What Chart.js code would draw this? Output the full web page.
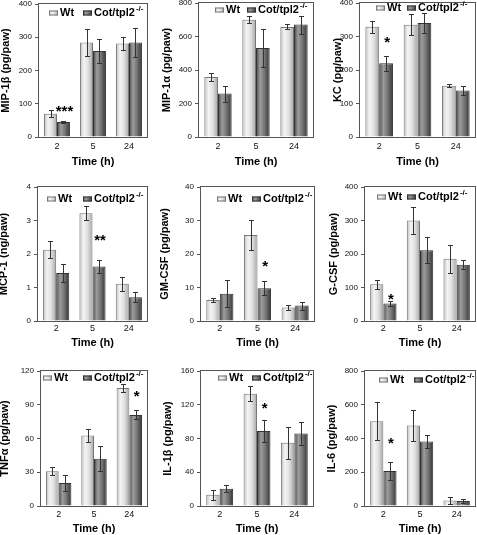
<!DOCTYPE html>
<html>
<head>
<meta charset="utf-8">
<script src="https://cdn.jsdelivr.net/npm/chart.js@4.4.1/dist/chart.umd.min.js"></script>
<style>
    html, body { margin: 0; padding: 0; background: #fff; }
    #page { position: relative; width: 477px; height: 535px; overflow: hidden; }
    #page canvas { position: absolute; }
</style>
</head>
<body>
<div id="page"></div>
<script>
const hours = ['2', '5', '24'];
const seriesNames = ['Wt', 'Cot/tpl2'];

const mip1bWt = [70, 284, 281];
const mip1bWtErr = [10, 40, 20];
const mip1bKo = [45, 259, 284];
const mip1bKoErr = [2, 37, 43];

const mip1aWt = [358, 700, 657];
const mip1aWtErr = [25, 21, 15];
const mip1aKo = [259, 531, 671];
const mip1aKoErr = [48, 111, 54];

const kcWt = [329, 335, 153];
const kcWtErr = [18, 31, 5];
const kcKo = [220, 340, 139];
const kcKoErr = [22, 30, 13];

const mcp1Wt = [2.13, 3.22, 1.11];
const mcp1WtErr = [0.26, 0.2, 0.2];
const mcp1Ko = [1.43, 1.63, 0.71];
const mcp1KoErr = [0.27, 0.2, 0.15];

const gmcsfWt = [6.3, 25.7, 4.0];
const gmcsfWtErr = [0.5, 4.4, 0.8];
const gmcsfKo = [8.1, 9.8, 4.6];
const gmcsfKoErr = [4, 2, 1.2];

const gcsfWt = [110, 300, 186];
const gcsfWtErr = [13, 40, 42];
const gcsfKo = [52, 211, 168];
const gcsfKoErr = [8, 39, 13];

const tnfWt = [31, 62.7, 105];
const tnfWtErr = [3.4, 6, 3.7];
const tnfKo = [20.4, 42, 81];
const tnfKoErr = [7.4, 11.2, 4.1];

const il1bWt = [13.4, 133, 75];
const il1bWtErr = [5.9, 9, 19];
const il1bKo = [20.5, 89, 86];
const il1bKoErr = [3.9, 13, 13.2];

const il6Wt = [502, 477, 33];
const il6WtErr = [112, 89, 20];
const il6Ko = [207, 382, 30];
const il6KoErr = [51, 40, 13];

const yTitles = ['MIP-1β (pg/paw)', 'MIP-1α (pg/paw)', 'KC (pg/paw)',
    'MCP-1 (ng/paw)', 'GM-CSF (pg/paw)', 'G-CSF (pg/paw)',
    'TNFα (pg/paw)', 'IL-1β (pg/paw)', 'IL-6 (pg/paw)'];
const yMax = [400, 800, 400, 4, 40, 400, 120, 160, 800];
const yStep = [100, 200, 100, 1, 10, 100, 30, 40, 200];

// significance marks (above the Cot/tpl2 bar)
const starText = ['***', '', '*', '**', '*', '*', '*', '*', '*'];
const starHour = [0, 0, 0, 1, 1, 0, 2, 1, 0];
const starLevel = [90, 0, 294, 2.52, 17.5, 76, 101, 120, 394];

// layout of the 3x3 grid (plot area left, top, right, bottom)
const plotBoxes = [
    [39, 4, 147, 137], [199, 3, 313, 137], [360, 3, 475, 137],
    [38, 187, 147, 321], [201, 187, 314, 321], [365, 187, 475, 321],
    [41, 371, 147, 506], [201, 371, 313, 506], [365, 371, 475, 506]
];
const titleX = [6, 167, 338, 4, 165, 334, 5, 168, 332];
// legend: offset from plot left, offset from plot top, gap to plot right
const legendPos = [[10, 9, 4], [16, 7, 6], [16, 5, 8], [9, 12, 4], [16, 12, 2],
    [12, 10, 8], [2, 7, 4], [17, 7, 1], [14, 9, 1]];
const rowAxis = [[4.6, 31.6], [2.6, 28.6], [3, 29.6]];

const FONT = '"Liberation Sans", Arial, sans-serif';
const CAT_PCT = 0.72;

const panels = [
    [mip1bWt, mip1bWtErr, mip1bKo, mip1bKoErr],
    [mip1aWt, mip1aWtErr, mip1aKo, mip1aKoErr],
    [kcWt, kcWtErr, kcKo, kcKoErr],
    [mcp1Wt, mcp1WtErr, mcp1Ko, mcp1KoErr],
    [gmcsfWt, gmcsfWtErr, gmcsfKo, gmcsfKoErr],
    [gcsfWt, gcsfWtErr, gcsfKo, gcsfKoErr],
    [tnfWt, tnfWtErr, tnfKo, tnfKoErr],
    [il1bWt, il1bWtErr, il1bKo, il1bKoErr],
    [il6Wt, il6WtErr, il6Ko, il6KoErr]
];

function shade(c, x0, x1, kind) {
    const g = c.createLinearGradient(x0, 0, x1, 0);
    if (kind === 0) {
        g.addColorStop(0, '#bdbdbd');
        g.addColorStop(0.3, '#f4f4f4');
        g.addColorStop(0.6, '#e2e2e2');
        g.addColorStop(1, '#a6a6a6');
    } else {
        g.addColorStop(0, '#444');
        g.addColorStop(0.3, '#9d9d9d');
        g.addColorStop(0.6, '#777');
        g.addColorStop(1, '#333');
    }
    return g;
}

function barFill(ctx, kind) {
    const chart = ctx.chart;
    const xs = chart.scales.x;
    if (!xs || !chart.chartArea) return kind === 0 ? '#ddd' : '#777';
    const bw = xs.width / hours.length * CAT_PCT / 2;
    const cx = xs.getPixelForValue(ctx.dataIndex) + (kind === 0 ? -bw / 2 : bw / 2);
    return shade(chart.ctx, cx - bw / 2, cx + bw / 2, kind);
}

function legendBox(c, bx, y, kind) {
    c.fillStyle = shade(c, bx, bx + 9, kind);
    c.fillRect(bx, y - 2.5, 9, 5);
    c.strokeStyle = kind === 0 ? '#777' : '#333';
    c.strokeRect(bx + 0.5, y - 2, 8, 4);
}

const extras = {
    id: 'extras',
    afterDatasetsDraw(chart, args, opts) {
        const c = chart.ctx;
        const ys = chart.scales.y;
        c.save();
        c.strokeStyle = '#333';
        c.lineWidth = 1;
        opts.errors.forEach((errs, di) => {
            chart.getDatasetMeta(di).data.forEach((bar, i) => {
                const v = chart.data.datasets[di].data[i];
                const x = Math.round(bar.x) + 0.5;
                const top = Math.round(ys.getPixelForValue(v + errs[i])) + 0.5;
                const bot = Math.round(ys.getPixelForValue(v - errs[i])) + 0.5;
                c.beginPath();
                c.moveTo(x, top); c.lineTo(x, bot);
                c.moveTo(x - 2.5, top); c.lineTo(x + 2.5, top);
                c.moveTo(x - 2.5, bot); c.lineTo(x + 2.5, bot);
                c.stroke();
            });
        });
        if (opts.star) {
            const size = 15;
            const bar = chart.getDatasetMeta(1).data[opts.star.hour];
            c.font = 'bold ' + size + 'px ' + FONT;
            c.fillStyle = '#000';
            c.textAlign = 'center';
            c.textBaseline = 'alphabetic';
            c.fillText(opts.star.text, bar.x + 1, ys.getPixelForValue(opts.star.level) + size * 0.57);
        }
        c.restore();
    },
    afterDraw(chart, args, opts) {
        const c = chart.ctx;
        const a = chart.chartArea;
        c.save();
        c.strokeStyle = '#555';
        c.lineWidth = 1;
        const l = Math.round(a.left) - 0.5, t = Math.round(a.top) - 0.5;
        c.strokeRect(l, t, Math.round(a.right) + 0.5 - l, Math.round(a.bottom) + 0.5 - t);

        // legend: Wt from the left, Cot/tpl2 -/- ending near the right edge
        const [dx, dy, de] = opts.legend;
        const y = Math.round(a.top + dy);
        const mainFont = 'bold 11px ' + FONT;
        const supFont = 'bold 8px ' + FONT;
        c.textAlign = 'left';
        c.textBaseline = 'middle';

        const x0 = Math.round(a.left + dx);
        legendBox(c, x0, y, 0);
        c.fillStyle = '#000';
        c.font = mainFont;
        c.fillText(seriesNames[0], x0 + 11, y);

        const koW = c.measureText(seriesNames[1]).width;
        c.font = supFont;
        const supW = c.measureText('-/-').width;
        const x1 = Math.round(a.right - de - supW - 1 - koW - 11);
        legendBox(c, x1, y, 1);
        c.fillStyle = '#000';
        c.font = mainFont;
        c.fillText(seriesNames[1], x1 + 11, y);
        c.font = supFont;
        c.fillText('-/-', x1 + 12 + koW, y - 4.5);
        c.restore();
    }
};
Chart.register(extras);

const page = document.getElementById('page');

panels.forEach(([wt, wtErr, ko, koErr], k) => {
    const [L, T, R, B] = plotBoxes[k];
    const [tickPad, axisH] = rowAxis[Math.floor(k / 3)];
    const left = Math.floor(titleX[k] - 6.6);
    const titlePad = titleX[k] - 6.6 - left;
    const top = T - 10;
    const width = Math.ceil(R - left + 3);
    const height = Math.ceil(B - top + axisH);
    const yw = L - left;

    const canvas = document.createElement('canvas');
    canvas.width = width;
    canvas.height = height;
    canvas.style.left = left + 'px';
    canvas.style.top = top + 'px';
    canvas.style.width = width + 'px';
    canvas.style.height = height + 'px';
    page.appendChild(canvas);

    new Chart(canvas, {
        type: 'bar',
        data: {
            labels: hours,
            datasets: [{
                label: seriesNames[0],
                data: wt,
                backgroundColor: ctx => barFill(ctx, 0),
                borderColor: '#777',
                borderWidth: 1
            }, {
                label: seriesNames[1],
                data: ko,
                backgroundColor: ctx => barFill(ctx, 1),
                borderColor: '#333',
                borderWidth: 1
            }]
        },
        options: {
            responsive: false,
            animation: false,
            devicePixelRatio: 1,
            events: [],
            categoryPercentage: CAT_PCT,
            barPercentage: 1,
            layout: {
                padding: {
                    left: 0,
                    top: 10,
                    right: width - (R - left),
                    bottom: height - (B - top + axisH)
                }
            },
            plugins: {
                legend: { display: false },
                tooltip: { enabled: false },
                extras: {
                    errors: [wtErr, koErr],
                    legend: legendPos[k],
                    star: starText[k] ? { text: starText[k], hour: starHour[k], level: starLevel[k] } : null
                }
            },
            scales: {
                x: {
                    grid: { display: false, drawTicks: false, tickLength: 0 },
                    border: { display: false },
                    ticks: { color: '#111', font: { family: FONT, size: 9 }, padding: tickPad },
                    title: {
                        display: true,
                        text: 'Time (h)',
                        color: '#000',
                        font: { family: FONT, size: 11, weight: 'bold' },
                        padding: { top: 0, bottom: 0 }
                    },
                    afterFit: s => { s.height = axisH; }
                },
                y: {
                    min: 0,
                    max: yMax[k],
                    grid: { drawOnChartArea: false, drawTicks: true, tickLength: 4, color: '#555' },
                    border: { display: false },
                    ticks: { stepSize: yStep[k], color: '#111', font: { family: FONT, size: 8 }, padding: 3 },
                    title: {
                        display: true,
                        text: yTitles[k],
                        color: '#000',
                        font: { family: FONT, size: 11, weight: 'bold' },
                        padding: { top: titlePad, bottom: 0 }
                    },
                    afterFit: s => { s.width = yw; }
                }
            }
        }
    });
});
</script>
</body>
</html>
